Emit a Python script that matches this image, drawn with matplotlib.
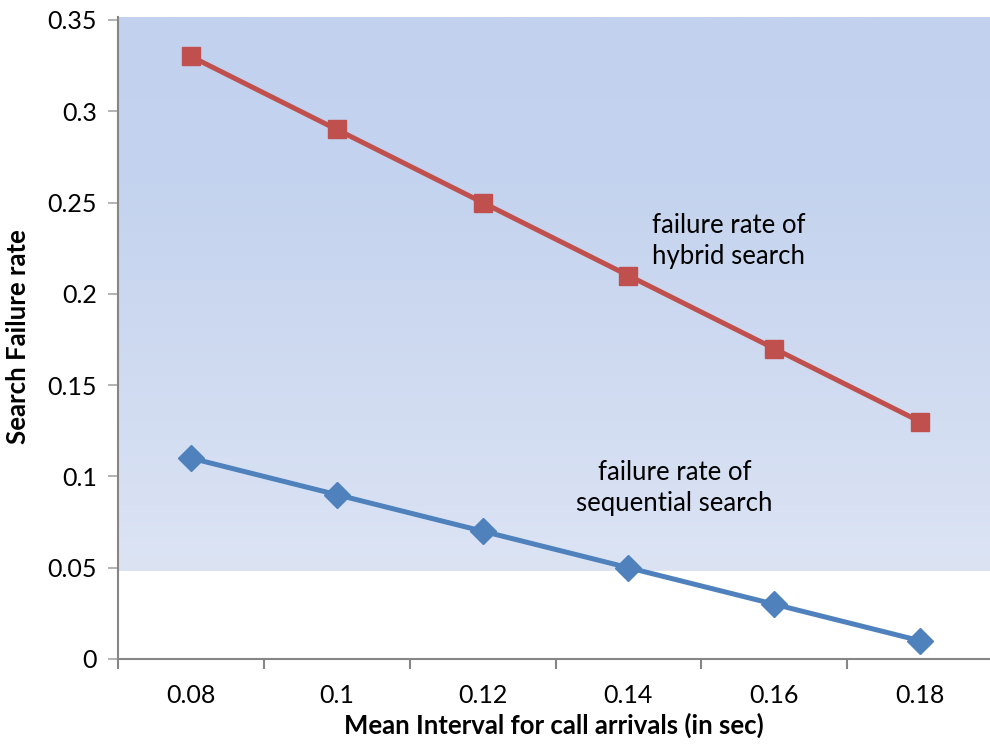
import matplotlib
matplotlib.use("Agg")
import matplotlib.pyplot as plt
import numpy as np
from matplotlib.colors import LinearSegmentedColormap

# mean interval between call arrivals (sec)
intervals = ["0.08", "0.1", "0.12", "0.14", "0.16", "0.18"]
hybrid = [0.33, 0.29, 0.25, 0.21, 0.17, 0.13]
sequential = [0.11, 0.09, 0.07, 0.05, 0.03, 0.01]

plt.rcParams['font.family'] = ['Lato', 'DejaVu Sans']

fig = plt.figure(figsize=(9.9, 7.44), dpi=100)
W, H = 990, 744
ax = fig.add_axes([118 / W, (H - 659) / H, (993 - 118) / W, (659 - 17) / H])

ytop = 0.3516
ax.set_xlim(-0.5, 5.5)
ax.set_ylim(0, ytop)

# blue plot-area fill that fades out and stops just under 0.05
grad_bottom = 0.0482
cmap = LinearSegmentedColormap.from_list(
    "fill", [(0.0, "#dce4f4"), (0.35, "#d0dbf1"), (0.7, "#c4d3ee"), (1.0, "#c2d1ee")])
g = np.linspace(0, 1, 256).reshape(-1, 1)
ax.imshow(g, cmap=cmap, aspect="auto", origin="lower",
          extent=(-0.5, 5.5, grad_bottom, ytop), zorder=0)

x = np.arange(len(intervals))
ax.plot(x, hybrid, color="#c0504d", lw=3.6, marker="s", ms=13.5, zorder=3)
ax.plot(x, sequential, color="#4f81bd", lw=3.6, marker="D", ms=13, zorder=3)

ax.text(3.685, 0.2289, "failure rate of\nhybrid search", fontsize=18.5,
        ha="center", va="center", linespacing=1.3)
ax.text(3.315, 0.0936, "failure rate of\nsequential search", fontsize=18.5,
        ha="center", va="center", linespacing=1.3)

# axes styling
for s in ("top", "right"):
    ax.spines[s].set_visible(False)
for s in ("left", "bottom"):
    ax.spines[s].set_color("#868686")
    ax.spines[s].set_linewidth(1.5)

ax.set_yticks([0, 0.05, 0.1, 0.15, 0.2, 0.25, 0.3, 0.35])
ax.set_yticklabels(["0", "0.05", "0.1", "0.15", "0.2", "0.25", "0.3", "0.35"])
ax.tick_params(axis="y", direction="out", length=7, width=1.2, color="#a6a6a6",
               labelsize=18, pad=8)

# category boundaries get tick marks, labels sit in between
ax.set_xticks(np.arange(-0.5, 6, 1.0))
ax.set_xticklabels([])
ax.set_xticks(x, minor=True)
ax.set_xticklabels(intervals, minor=True)
ax.tick_params(axis="x", which="major", direction="out", length=7, width=1.5,
               color="#868686")
ax.tick_params(axis="x", which="minor", length=0, labelsize=18, pad=18)

fig.text(18 / W, (H - 337) / H, "Search Failure rate", rotation=90,
         fontsize=18.5, fontweight="bold", ha="center", va="center")
fig.text(554 / W, (H - 725) / H, "Mean Interval for call arrivals (in sec)",
         fontsize=18.5, fontweight="bold", ha="center", va="center")

fig.savefig("out.png", dpi=100)
